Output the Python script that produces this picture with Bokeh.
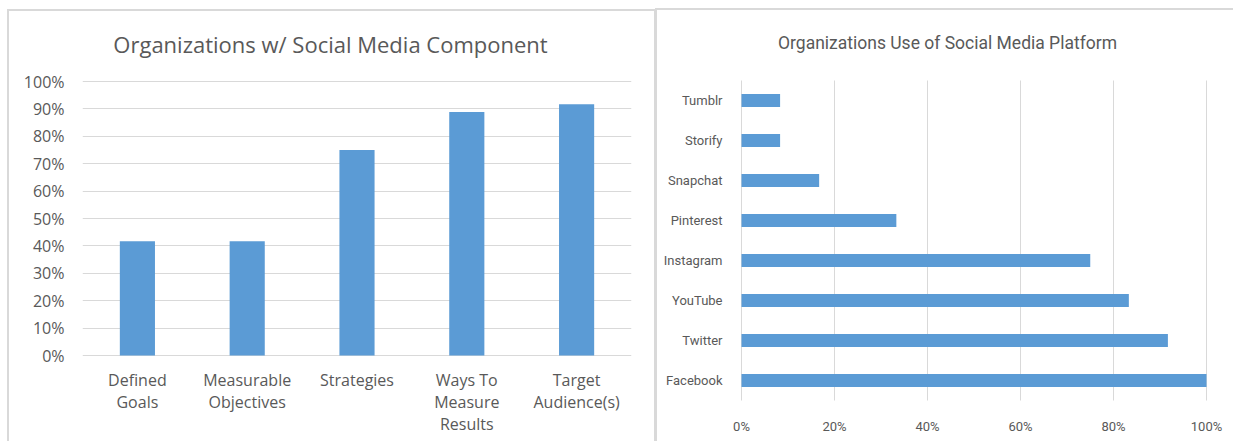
from bokeh.plotting import figure
from bokeh.layouts import row
from bokeh.models import (Range1d, NumeralTickFormatter, FixedTicker,
                          ColumnDataSource, LabelSet, Label)
from bokeh.core.properties import value
from bokeh.embed import file_html
from bokeh.resources import INLINE

# ---- data: left chart ----
left_title = "Organizations w/ Social Media Component"
components = ["Defined Goals", "Measurable Objectives", "Strategies",
              "Ways To Measure Results", "Target Audience(s)"]
component_labels = ["Defined\nGoals", "Measurable\nObjectives", "Strategies",
                    "Ways To\nMeasure\nResults", "Target\nAudience(s)"]
component_share = [0.417, 0.417, 0.75, 0.889, 0.917]
left_ticks = [0.0, 0.1, 0.2, 0.3, 0.4, 0.5, 0.6, 0.7, 0.8, 0.9, 1.0]

# ---- data: right chart ----
right_title = "Organizations Use of Social Media Platform"
platforms = ["Facebook", "Twitter", "YouTube", "Instagram",
             "Pinterest", "Snapchat", "Storify", "Tumblr"]
platform_share = [1.0, 0.917, 0.833, 0.75, 0.333, 0.167, 0.083, 0.083]
right_ticks = [0.0, 0.2, 0.4, 0.6, 0.8, 1.0]
right_tick_labels = ["0%", "20%", "40%", "60%", "80%", "100%"]

BAR = "#5B9BD5"
GRID = "#D9D9D9"
TXT = "#595959"
BORDER = {"outline": "2px solid #D9D9D9", "outline-offset": "0px"}

# ---------------- left figure geometry ----------------
H1 = 430
L_TOP_GAP = 70       # frame top -> 100% line
L_PX = 274           # 0% -> 100%
L_BOTTOM_GAP = H1 - L_TOP_GAP - L_PX
y1_start = -L_BOTTOM_GAP / L_PX
y1_end = 1.0 + L_TOP_GAP / L_PX
n_c = len(components)
xpos = list(range(n_c))

p1 = figure(width=645, height=H1,
            x_range=Range1d(-0.5, n_c - 0.5),
            y_range=Range1d(y1_start, y1_end),
            output_backend="svg", toolbar_location=None,
            min_border_left=73, min_border_right=23,
            min_border_top=0, min_border_bottom=0)
p1.margin = (11, 0, 0, 9)
p1.styles = BORDER

src1 = ColumnDataSource(dict(x=xpos, val=component_share))
p1.vbar(x="x", top="val", width=0.32, source=src1, fill_color=BAR, line_color=None)

# multi-line category labels under the 0% line
lab_x, lab_txt, lab_off = [], [], []
for i_c, lab in zip(xpos, component_labels):
    for i, line in enumerate(lab.split("\n")):
        lab_x.append(i_c)
        lab_txt.append(line)
        lab_off.append(-30 - 22 * i)
lab_src = ColumnDataSource(dict(x=lab_x, y=[0.0] * len(lab_x), text=lab_txt, yoff=lab_off))
p1.add_layout(LabelSet(x="x", y="y", text="text", y_offset="yoff", source=lab_src,
                       text_align="center", text_baseline="alphabetic",
                       text_font=value("Open Sans"), text_font_size="16px",
                       text_color=TXT))

p1.add_layout(Label(x=(n_c - 1) / 2, y=1.0, x_offset=-26.5, y_offset=38,
                    text=left_title, text_align="center", text_baseline="middle",
                    text_font="Open Sans", text_font_size="22px",
                    text_color=TXT))

p1.xaxis.visible = False
p1.yaxis.ticker = FixedTicker(ticks=left_ticks)
p1.yaxis.formatter = NumeralTickFormatter(format="0%")
p1.yaxis.axis_line_color = None
p1.yaxis.major_tick_line_color = None
p1.yaxis.minor_tick_line_color = None
p1.yaxis.major_label_text_font = "Open Sans"
p1.yaxis.major_label_text_font_size = "16px"
p1.yaxis.major_label_text_color = TXT
p1.yaxis.major_label_standoff = 12

p1.xgrid.grid_line_color = None
p1.ygrid.ticker = FixedTicker(ticks=left_ticks)
p1.ygrid.grid_line_color = GRID
p1.ygrid.grid_line_width = 1
p1.outline_line_color = None

# ---------------- right figure geometry ----------------
H2 = 431
BAND = 40
n_pf = len(platforms)
R_TOP_GAP = 70       # frame top -> top of category area
y2_end = n_pf - 0.5 + R_TOP_GAP / BAND
y2_start = -0.5 - (H2 - R_TOP_GAP - n_pf * BAND) / BAND
R_PX = 465           # 0% -> 100%
R_FRAME_W = 495
R_LEFT_PAD = 12
x2_start = -R_LEFT_PAD / R_PX
x2_end = (R_FRAME_W - R_LEFT_PAD) / R_PX

p2 = figure(width=576, height=H2,
            y_range=Range1d(y2_start, y2_end),
            x_range=Range1d(x2_start, x2_end),
            output_backend="svg", toolbar_location=None,
            min_border_left=72, min_border_right=9,
            min_border_top=0, min_border_bottom=0)
p2.margin = (10, 0, 0, 3)
p2.styles = BORDER

pos = list(range(n_pf))
gsrc = ColumnDataSource(dict(x=right_ticks, y0=[-0.5] * len(right_ticks),
                             y1=[n_pf - 0.5] * len(right_ticks), lab=right_tick_labels))
p2.segment(x0="x", y0="y0", x1="x", y1="y1", source=gsrc, line_color=GRID, line_width=1)

src2 = ColumnDataSource(dict(pos=pos, val=platform_share))
p2.hbar(y="pos", right="val", left=0, height=0.33, source=src2, fill_color=BAR, line_color=None)

p2.add_layout(LabelSet(x="x", y="y0", text="lab", y_offset=-26, source=gsrc,
                       text_align="center", text_baseline="middle",
                       text_font=value("Roboto"), text_font_size="13px",
                       text_color=TXT))

p2.add_layout(Label(x=(right_ticks[0] + right_ticks[-1]) / 2, y=n_pf - 0.5,
                    x_offset=-26.5, y_offset=38,
                    text=right_title, text_align="center", text_baseline="middle",
                    text_font="Roboto", text_font_size="17.5px",
                    text_color=TXT))

p2.xaxis.visible = False
p2.yaxis.ticker = FixedTicker(ticks=pos)
p2.yaxis.major_label_overrides = {i: name for i, name in zip(pos, platforms)}
p2.yaxis.axis_line_color = None
p2.yaxis.major_tick_line_color = None
p2.yaxis.minor_tick_line_color = None
p2.yaxis.major_label_text_font = "Roboto"
p2.yaxis.major_label_text_font_size = "13px"
p2.yaxis.major_label_text_color = TXT
p2.yaxis.major_label_standoff = 1

p2.xgrid.grid_line_color = None
p2.ygrid.grid_line_color = None
p2.outline_line_color = None

layout = row(p1, p2, spacing=0)
open("out.html", "w").write(file_html(layout, INLINE))
